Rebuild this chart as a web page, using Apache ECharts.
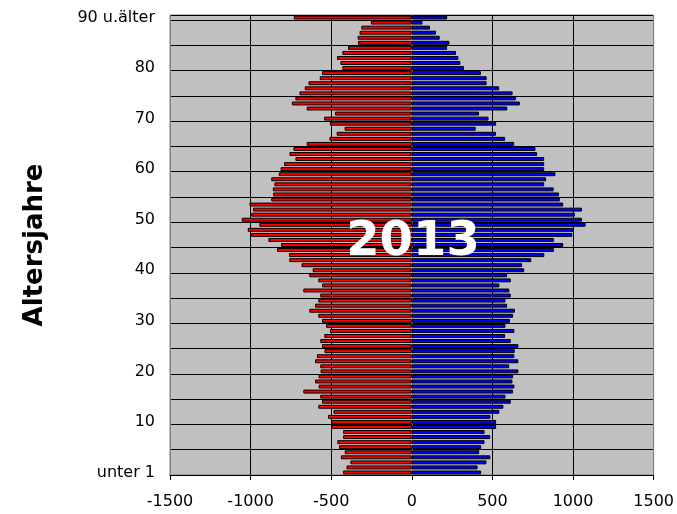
<!DOCTYPE html>
<html><head><meta charset="utf-8">
<script src="https://cdn.jsdelivr.net/npm/echarts@6/dist/echarts.min.js"></script>
<style>html,body{margin:0;padding:0;background:#fff}#c{width:677px;height:514px}</style>
</head><body><div id="c"></div>
<script>
const ages = ['unter 1','1','2','3','4','5','6','7','8','9','10','11','12','13','14','15','16','17','18','19',
'20','21','22','23','24','25','26','27','28','29','30','31','32','33','34','35','36','37','38','39',
'40','41','42','43','44','45','46','47','48','49','50','51','52','53','54','55','56','57','58','59',
'60','61','62','63','64','65','66','67','68','69','70','71','72','73','74','75','76','77','78','79',
'80','81','82','83','84','85','86','87','88','89','90 u.älter'];

const female = [-427,-405,-381,-440,-416,-451,-462,-426,-426,-500,
-500,-520,-486,-580,-557,-568,-673,-578,-600,-578,
-566,-568,-600,-589,-542,-557,-568,-543,-508,-532,
-557,-580,-636,-600,-580,-568,-673,-557,-580,-636,
-615,-684,-760,-762,-836,-811,-890,-997,-1018,-946,
-1055,-996,-985,-1007,-872,-860,-862,-852,-872,-825,
-814,-792,-722,-759,-734,-652,-511,-466,-417,-508,
-544,-476,-652,-744,-722,-697,-664,-641,-571,-557,
-431,-443,-464,-431,-396,-334,-336,-324,-313,-254,-732];

const male = [430,408,463,487,418,430,451,486,451,523,
523,488,543,568,614,581,627,636,624,628,
661,604,661,636,638,661,614,579,636,581,
609,628,640,591,581,614,605,543,614,591,
697,684,741,822,881,939,881,996,1006,1078,
1055,1011,1055,939,918,913,880,821,833,891,
821,821,821,777,767,635,579,522,396,523,
476,417,592,670,645,625,542,464,464,429,
324,301,289,274,219,233,173,150,113,66,219];

const xMin = -1500, xMax = 1500, xStep = 500;
const yearLabel = '2013';
const yName = 'Altersjahre';

const FONT = 'DejaVu Sans';
const chart = echarts.init(document.getElementById('c'), null, {renderer:'canvas'});
chart.setOption({
  backgroundColor: '#ffffff',
  animation: false,
  grid: {left: 170, right: 18, top: 15, bottom: 39, show: true,
         backgroundColor: '#C0C0C0', borderColor: '#808080', borderWidth: 1},
  xAxis: {
    type: 'value', min: xMin, max: xMax, interval: xStep,
    axisLine: {show: true, lineStyle: {color: '#000', width: 1}},
    axisTick: {show: true, length: 5, lineStyle: {color: '#000'}},
    axisLabel: {color: '#000', fontFamily: FONT, fontSize: 16, margin: 19,
                formatter: v => String(v)},
    splitLine: {show: true, lineStyle: {color: ['#808080','#000','#000','#000','#000','#000','#808080'], width: 1}}
  },
  yAxis: {
    type: 'category', data: ages,
    name: yName, nameLocation: 'middle', nameRotate: 90, nameGap: 122,
    nameTextStyle: {fontFamily: FONT, fontSize: 26, fontWeight: 'bold', color: '#000'},
    axisLine: {show: true, lineStyle: {color: '#808080', width: 1}},
    axisTick: {show: true, interval: 4, length: 5, lineStyle: {color: '#000'}},
    axisLabel: {interval: 9, color: '#000', fontFamily: FONT, fontSize: 16, margin: 15},
    splitLine: {show: true, interval: 4, lineStyle: {color: '#000', width: 1}}
  },
  series: [
    {name: 'weiblich', type: 'bar', data: female, barGap: '-100%', barCategoryGap: '22%',
     itemStyle: {color: '#FF0000', borderColor: '#000', borderWidth: 1}},
    {name: 'männlich', type: 'bar', data: male, barGap: '-100%', barCategoryGap: '22%',
     itemStyle: {color: '#0000FF', borderColor: '#000', borderWidth: 1}}
  ],
  graphic: [{
    type: 'text', x: 413, y: 243, z: 100,
    style: {text: yearLabel, fill: '#fff', font: 'bold 48px "DejaVu Sans"',
            textAlign: 'center', textVerticalAlign: 'middle'}
  }]
});
</script></body></html>
